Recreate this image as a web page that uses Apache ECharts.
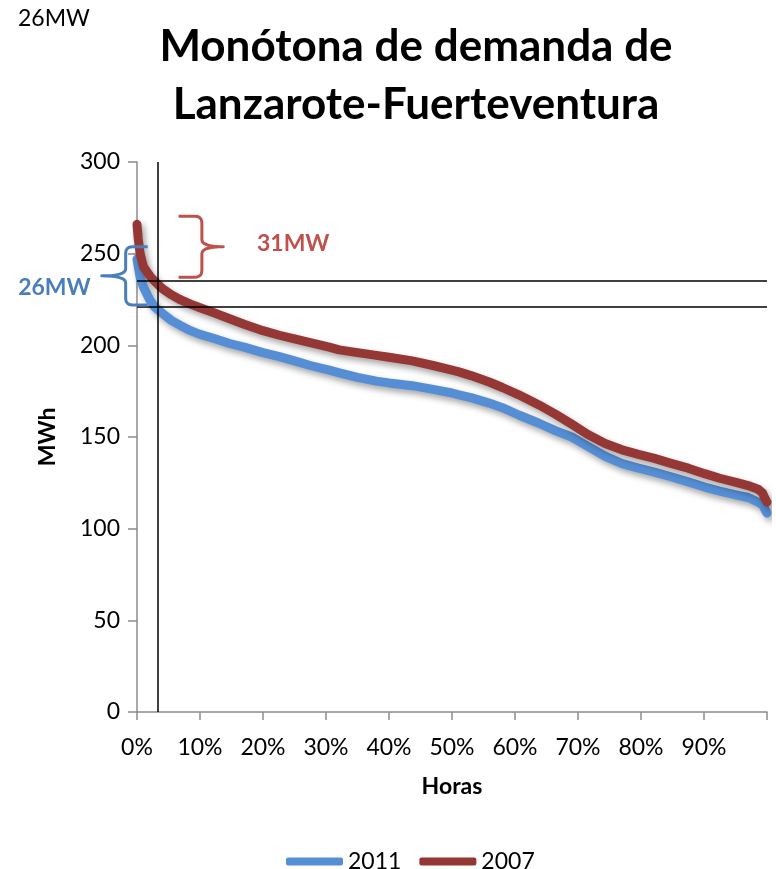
<!DOCTYPE html>
<html>
<head>
<meta charset="utf-8">
<title>Monótona de demanda de Lanzarote-Fuerteventura</title>
<script src="https://cdn.jsdelivr.net/npm/echarts@6/dist/echarts.min.js"></script>
<style>
  html, body { margin: 0; padding: 0; background: #ffffff; }
  #chart { width: 776px; height: 869px; }
</style>
</head>
<body>
<div id="chart"></div>
<script>
// Share of annual hours (%) at which each sample of the load-duration curve is taken
const hours = [0, 0.2, 0.5, 1, 2, 2.8, 4, 5.5, 6.8, 8.5, 10, 12, 14.7, 17, 20, 22.6, 25, 27.5,
  30.5, 32.1, 35, 38, 40, 43.7, 47, 50, 51.1, 53, 55.9, 58, 60.6, 63.8, 66.4, 69, 71.5, 74.3,
  77, 79.6, 82, 84.9, 87.5, 90.1, 92.5, 95.4, 97, 98.6, 99.3, 99.6, 100];

// Hourly demand, sorted from highest to lowest (MWh)
const demand2011 = [247, 243, 237, 232, 225, 221, 217.5, 213.5, 211, 208, 206, 204, 201, 199,
  196, 193.8, 191.5, 189, 186.5, 185, 182.5, 180.5, 179.5, 178, 176, 174, 173, 171.5, 168.5,
  166, 162, 157.5, 153.5, 150, 145, 139.5, 135.5, 133, 131, 128.2, 125.5, 122.7, 120.5, 118.2,
  117, 114.5, 113, 111, 108.5];
const demand2007 = [266, 258, 250, 243, 238, 235, 231, 227.5, 225, 222.5, 220.5, 218, 214.5,
  211.5, 208, 205.5, 203.5, 201.5, 199, 197.5, 196, 194.5, 193.5, 191.5, 189, 186.5, 185.5,
  183.5, 180, 177, 173, 167.5, 162.5, 157, 151.5, 146.5, 143, 140.5, 138.5, 135.5, 133, 130,
  127.5, 125, 123.5, 121.5, 119.5, 117, 114.5];

const seriesNames = ['2011', '2007'];
const yTicks = [0, 50, 100, 150, 200, 250, 300];

// Reference levels: demand exceeded during the first few percent of hours
const thresholdLevels = [235, 221];
const cutoffHour = 3.27;

// Braces marking the peak band of each year: [hour of arm ends, hour of spine, hour of tip, top MWh, bottom MWh]
const brace2007 = [6.6, 10.3, 13.7, 270.4, 237.2];
const brace2011 = [1.7, -1.8, -5.6, 253.8, 222];
const braceLabels = [
  { text: '31MW', hour: 24.8, value: 255.5, color: '#C0504D' },
  { text: '26MW', hour: -13.1, value: 231.3, color: '#4A7EBB' }
];

const FONT = 'Lato, "Open Sans", sans-serif';
const BLUE = '#558ED5';
const RED = '#953735';

const chart = echarts.init(document.getElementById('chart'), null, { renderer: 'canvas' });

function pairs(vals) {
  return hours.map((h, i) => [h, vals[i]]);
}

const lineShadow = {
  shadowColor: 'rgba(0,0,0,0.35)',
  shadowBlur: 6,
  shadowOffsetX: 3,
  shadowOffsetY: 4
};

chart.setOption({
  backgroundColor: '#ffffff',
  animation: false,
  title: {
    text: 'Monótona de demanda de\nLanzarote-Fuerteventura',
    left: 411,
    top: 13,
    textAlign: 'center',
    textStyle: {
      fontFamily: FONT,
      fontWeight: 'bold',
      fontSize: 44,
      lineHeight: 58,
      color: '#000000'
    }
  },
  legend: {
    data: seriesNames,
    left: 281,
    top: 845,
    icon: 'roundRect',
    itemWidth: 57,
    itemHeight: 8,
    itemGap: 18,
    textStyle: { fontFamily: FONT, fontSize: 23, color: '#000000' }
  },
  grid: { left: 137, right: 9, top: 162, bottom: 157, containLabel: false },
  xAxis: {
    type: 'value',
    min: 0,
    max: 100,
    interval: 10,
    name: 'Horas',
    nameLocation: 'middle',
    nameGap: 63,
    nameTextStyle: { fontFamily: FONT, fontWeight: 'bold', fontSize: 23, color: '#000000' },
    axisLine: { show: true, lineStyle: { color: '#8C8C8C', width: 1.5 } },
    axisTick: { show: true, length: 8, lineStyle: { color: '#8C8C8C', width: 1.5 } },
    splitLine: { show: false },
    axisLabel: {
      margin: 24,
      fontFamily: FONT,
      fontSize: 23,
      color: '#000000',
      showMaxLabel: true,
      formatter: v => (v >= 100 ? '' : v + '%')
    }
  },
  yAxis: {
    type: 'value',
    min: yTicks[0],
    max: yTicks[yTicks.length - 1],
    interval: 50,
    name: 'MWh',
    nameLocation: 'middle',
    nameGap: 78,
    nameTextStyle: { fontFamily: FONT, fontWeight: 'bold', fontSize: 23, color: '#000000' },
    axisLine: { show: true, lineStyle: { color: '#8C8C8C', width: 1.5 } },
    axisTick: { show: true, length: 9, lineStyle: { color: '#8C8C8C', width: 1.5 } },
    splitLine: { show: false },
    axisLabel: { margin: 17, fontFamily: FONT, fontSize: 23, color: '#000000' }
  },
  series: [
    {
      name: seriesNames[0],
      type: 'line',
      data: pairs(demand2011),
      showSymbol: false,
      symbol: 'none',
      color: BLUE,
      lineStyle: Object.assign({ width: 9, color: BLUE, cap: 'round', join: 'round' }, lineShadow),
      z: 3,
      markLine: {
        silent: true,
        symbol: 'none',
        animation: false,
        label: { show: false },
        lineStyle: { color: '#000000', width: 1.5, type: 'solid' },
        data: thresholdLevels.map(v => [{ coord: [0, v] }, { coord: [100, v] }])
          .concat([[{ coord: [cutoffHour, 0] }, { coord: [cutoffHour, 300] }]])
      }
    },
    {
      name: seriesNames[1],
      type: 'line',
      data: pairs(demand2007),
      showSymbol: false,
      symbol: 'none',
      color: RED,
      lineStyle: Object.assign({ width: 9, color: RED, cap: 'round', join: 'round' }, lineShadow),
      z: 4
    }
  ]
});

// Curly braces and their captions, placed through the chart's own coordinate system
function px(hour, value) {
  return chart.convertToPixel({ gridIndex: 0 }, [hour, value]);
}

// Sample a quadratic curve from p0 to p1 with control point c
function quad(p0, c, p1, n) {
  const out = [];
  for (let i = 1; i <= n; i++) {
    const t = i / n, u = 1 - t;
    out.push([
      u * u * p0[0] + 2 * u * t * c[0] + t * t * p1[0],
      u * u * p0[1] + 2 * u * t * c[1] + t * t * p1[1]
    ]);
  }
  return out;
}

function bracePoints(b) {
  const [hArm, hSpine, hTip, vTop, vBot] = b;
  const a = px(hArm, vTop);
  const s = px(hSpine, vTop);
  const t = px(hTip, (vTop + vBot) / 2);
  const bot = px(hArm, vBot);
  const xA = a[0], xS = s[0], xT = t[0];
  const yT = a[1], yB = bot[1], yM = t[1];
  const dir = xT > xS ? 1 : -1;
  const r = 7;
  let pts = [[xA, yT], [xS - dir * r, yT]];
  pts = pts.concat(quad([xS - dir * r, yT], [xS, yT], [xS, yT + r], 6));
  pts.push([xS, yM - r]);
  pts = pts.concat(quad([xS, yM - r], [xS, yM], [xT, yM], 8));
  pts = pts.concat(quad([xT, yM], [xS, yM], [xS, yM + r], 8));
  pts.push([xS, yB - r]);
  pts = pts.concat(quad([xS, yB - r], [xS, yB], [xS - dir * r, yB], 6));
  pts.push([xA, yB]);
  return pts;
}

const extras = [
  {
    type: 'polyline',
    shape: { points: bracePoints(brace2007) },
    style: { fill: null, stroke: '#C0504D', lineWidth: 3, lineJoin: 'round' },
    z: 10
  },
  {
    type: 'polyline',
    shape: { points: bracePoints(brace2011) },
    style: { fill: null, stroke: '#4A7EBB', lineWidth: 3, lineJoin: 'round' },
    z: 10
  },
  {
    type: 'text',
    left: 18,
    top: 7,
    style: { text: '26MW', fill: '#000000', fontFamily: FONT, fontSize: 23 },
    z: 10
  }
];

braceLabels.forEach(l => {
  const p = px(l.hour, l.value);
  extras.push({
    type: 'text',
    x: p[0],
    y: p[1],
    style: {
      text: l.text,
      fill: l.color,
      fontFamily: FONT,
      fontWeight: 'bold',
      fontSize: 23,
      align: 'center',
      verticalAlign: 'middle'
    },
    z: 10
  });
});

chart.setOption({ graphic: extras });
</script>
</body>
</html>
